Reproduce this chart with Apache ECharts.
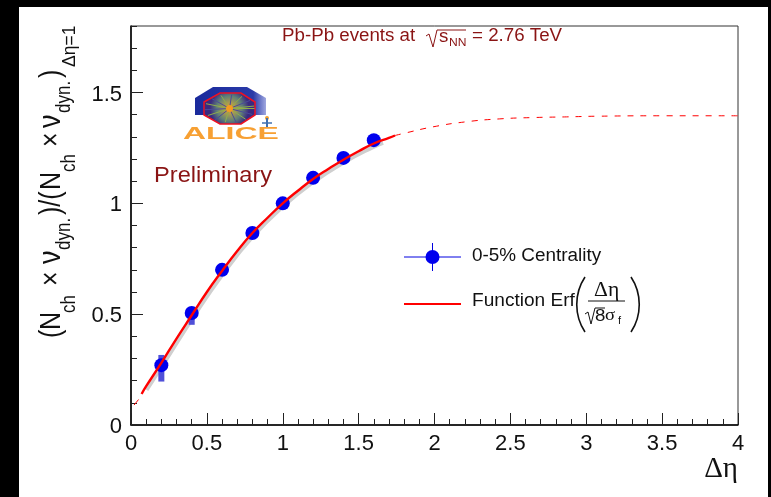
<!DOCTYPE html>
<html><head><meta charset="utf-8">
<style>html,body{margin:0;padding:0;background:#fff}#c{width:771px;height:497px}</style>
<script src="https://cdn.jsdelivr.net/npm/echarts@6/dist/echarts.min.js"></script>
</head><body><div id="c"></div>
<script>
const pointX = [0.2,0.4,0.6,0.8,1.0,1.2,1.4,1.6];
const pointY = [0.27,0.505,0.70,0.866,1.0,1.115,1.205,1.285];
const sysLow = [0.196,0.452,0.68,0.85,0.985,1.095,1.185,1.265];
const sysHigh = [0.316,0.53,0.72,0.88,1.015,1.135,1.225,1.305];
const fitX = [0.07,0.1,0.2,0.3,0.4,0.5,0.6,0.7,0.8,0.9,1.0,1.1,1.2,1.3,1.4,1.5,1.6,1.7,1.74];
const fitY = [0.14,0.175,0.28,0.39,0.495,0.6,0.695,0.785,0.866,0.935,1.0,1.057,1.11,1.155,1.197,1.235,1.27,1.295,1.306];
const tailX = [1.74,1.8,1.99,2.21,2.43,2.65,2.87,3.07,3.5,4.0];
const tailY = [1.306,1.316,1.345,1.368,1.381,1.387,1.39,1.393,1.395,1.395];
const headX = [0.02,0.05];
const headY = [0.09,0.115];
const bandX = [0.1,0.2,0.4,0.6,0.8,1.0,1.2,1.4,1.6,1.66];
const bandY = [0.16,0.265,0.48,0.68,0.852,0.988,1.098,1.186,1.258,1.275];
const legendPoints = '0-5% Centrality';
const legendFit = 'Function Erf';
const SANS = '"Liberation Sans", Arial, sans-serif';
const SERIF = '"Liberation Serif", serif';
const DARKRED = '#8a1414';
const zip = (a,b)=>a.map((v,i)=>[v,b[i]]);

function rot(text,x,y,size,sy){return {type:'text',rotation:Math.PI/2,x:x,y:y,scaleY:sy||1.17,z:20,
  style:{text:text,font:size+'px '+SANS,fill:'#111',align:'left',verticalAlign:'bottom'}};}
function hor(text,x,y,size,fill,sx,family,weight){return {type:'text',x:x,y:y,scaleX:sx||1.12,z:20,
  style:{text:text,font:(weight?weight+' ':'')+size+'px '+(family||SANS),fill:fill||'#111',align:'left',verticalAlign:'middle'}};}
function paren(x0,xm,y0,y1){return {type:'bezierCurve',z:20,shape:{x1:x0,y1:y0,x2:x0,y2:y1,cpx1:xm,cpy1:y0+(y1-y0)*0.3,cpx2:xm,cpy2:y0+(y1-y0)*0.7},style:{stroke:'#111',lineWidth:1.6,fill:null}};}
function line(x1,y1,x2,y2,c,w){return {type:'line',z:20,shape:{x1,y1,x2,y2},style:{stroke:c,lineWidth:w}};}

const spokes = [0,25,50,75,100,125,150,175,200,225,250,275,300,325,350].map((a,i)=>{
  const t=a*Math.PI/180;
  return line(229.5,108.5,229.5+25*Math.cos(t),108.5+14*Math.sin(t),i%2?'#4a4a9a':'#8fae4a',1);
});
spokes.forEach(s=>{s.z=17;});

const graphics = [
  {type:'rect',z:30,shape:{x:0,y:0,width:19,height:497},style:{fill:'#000'}},
  {type:'rect',z:30,shape:{x:0,y:0,width:771,height:7},style:{fill:'#000'}},
  {type:'rect',z:30,shape:{x:768,y:0,width:3,height:497},style:{fill:'#000'}},
  // y title
  rot('(',67,338,25),rot('N',67,330,25),rot('ch',79,313,17),rot('×',67,286,25),
  rot('ν',67,264,27),rot('dyn.',74.5,250,17),rot(')/(',67,215,25),
  rot('N',67,190,25),rot('ch',79,172,17),rot('×',67,147,25),
  rot('ν',67,128,27),rot('dyn.',74.5,113,17),rot(')',67,78,25),rot('Δη=1',79,67,17.5,1),
  // top label
  hor('Pb-Pb events at',282,36,17.5,DARKRED,1.07),
  {type:'polyline',z:20,shape:{points:[[426,36],[429,34],[433,47],[437,30],[466,30]]},style:{stroke:DARKRED,lineWidth:1,fill:null}},
  hor('s',439,37,17.5,DARKRED,1.07),hor('NN',449,43,11,DARKRED,1.1),hor('= 2.76 TeV',472,36,17.5,DARKRED,1.07),
  hor('Preliminary',154,176,22.5,DARKRED,1.05),
  // ALICE logo
  {type:'polygon',z:15,shape:{points:[[195,115],[195,98],[213,87],[247,87],[266,98],[266,115]]},
    style:{fill:{type:'linear',x:0,y:0,x2:1,y2:0,colorStops:[{offset:0,color:'#1a2a9c'},{offset:0.82,color:'#2a3aa8'},{offset:1,color:'#a0a8e0'}]}}},
  {type:'polygon',z:16,shape:{points:[[204,102],[220,93],[241,93],[255,102],[255,115],[241,124],[220,124],[204,115]]},
    style:{stroke:'#ee1122',lineWidth:1.5,fill:{type:'radial',x:0.5,y:0.5,r:0.6,colorStops:[{offset:0,color:'#f59a20'},{offset:0.3,color:'#a89a50'},{offset:0.65,color:'#5f7f78'},{offset:1,color:'#3a2a80'}]}}},
  ...spokes,
  {type:'circle',z:18,shape:{cx:229.5,cy:108.5,r:3.5},style:{fill:'#f59a20'}},
  {type:'circle',z:17,shape:{cx:267,cy:118,r:2},style:{fill:'#f0a030'}},
  line(267,118,267,127,'#4070b0',2),line(262,123,272,123,'#4070b0',1.5),
  hor('ALICE',183,134,17,'#f7a033',1.88,SANS,'bold'),
  // legend
  line(404,257,461,257,'#0000e0',1),line(432.5,243,432.5,271,'#0000e0',1),
  {type:'circle',z:21,shape:{cx:432.5,cy:257,r:7},style:{fill:'#0000ee'}},
  hor(legendPoints,472,256,18,'#111',1.05),
  line(404,304,461,304,'#ff0000',2),
  hor(legendFit,472,301,18,'#111',1.06),
  paren(585,574,277,332),paren(631,642,277,332),
  hor('Δη',594,291,20,'#111',1.08,SERIF),
  line(588,301,625,301,'#111',1),
  {type:'polyline',z:20,shape:{points:[[585,314],[588,312],[591,324],[595,308],[605,308]]},style:{stroke:'#111',lineWidth:1,fill:null}},
  hor('8',595,316,17,'#111',1.1),hor('σ',605,316,17,'#111',1.1,SERIF),hor('f',618,321,10,'#111',1.1)
];

const chart = echarts.init(document.getElementById('c'),null,{renderer:'canvas'});
chart.setOption({
  animation:false,
  backgroundColor:'#fff',
  grid:{left:131,top:26,right:33,bottom:72,show:true,borderColor:'#333',borderWidth:1,containLabel:false},
  xAxis:{type:'value',min:0,max:4,interval:0.5,name:'Δη',nameLocation:'end',nameGap:0,
    nameTextStyle:{fontFamily:SERIF,fontSize:29,color:'#111',align:'right',verticalAlign:'top',padding:[30,0,0,0]},
    axisLine:{show:true,onZero:false,lineStyle:{color:'#000',width:1.5}},
    axisTick:{show:true,inside:true,length:12,lineStyle:{color:'#222',width:1}},
    minorTick:{show:true,splitNumber:5,length:6,lineStyle:{color:'#222',width:1}},
    splitLine:{show:false},minorSplitLine:{show:false},
    axisLabel:{fontFamily:SANS,fontSize:22,color:'#111',margin:8,formatter:v=>String(v)}},
  yAxis:[
   {type:'value',min:0,max:1.8,interval:0.5,
    axisLine:{show:true,onZero:false,lineStyle:{color:'#000',width:1.5}},
    axisTick:{show:true,inside:true,length:12,lineStyle:{color:'#222',width:1}},
    splitLine:{show:false},
    axisLabel:{margin:9,showMaxLabel:false,formatter:v=>'{a|'+v+'}',
      rich:{a:{fontFamily:SANS,fontSize:22,color:'#111',padding:[4,0,0,0]}}}},
   {type:'value',position:'left',min:0,max:1.8,interval:0.1,
    axisLine:{show:false},axisLabel:{show:false},splitLine:{show:false},
    axisTick:{show:true,inside:true,length:6,lineStyle:{color:'#222',width:1}}}
  ],
  graphic:graphics,
  series:[
    {type:'line',name:'band',data:zip(bandX,bandY),showSymbol:false,smooth:true,lineStyle:{color:'#cfcfcf',width:5},z:2,silent:true},
    {type:'custom',name:'sys',z:3,data:pointX.map((x,i)=>[x,sysLow[i],sysHigh[i]]),
      renderItem:(p,api)=>{const a=api.coord([api.value(0),api.value(1)]),b=api.coord([api.value(0),api.value(2)]);
        return {type:'rect',shape:{x:a[0]-3,y:b[1],width:6,height:a[1]-b[1]},style:{fill:'#5050d8'}};},
      encode:{x:0,y:[1,2]}},
    {type:'scatter',name:'0-5% Centrality',data:zip(pointX,pointY),symbol:'circle',symbolSize:14,itemStyle:{color:'#0000ee',opacity:1},z:4},
    {type:'line',name:'Function Erf',data:zip(fitX,fitY),showSymbol:false,smooth:true,lineStyle:{color:'#ff0000',width:2.4},z:5},
    {type:'line',name:'Erf tail',data:zip(tailX,tailY),showSymbol:false,smooth:true,lineStyle:{color:'#ff0000',width:1,type:[6,7]},z:5},
    {type:'line',name:'Erf head',data:zip(headX,headY),showSymbol:false,lineStyle:{color:'#ff0000',width:1},z:5}
  ]
});
</script></body></html>
